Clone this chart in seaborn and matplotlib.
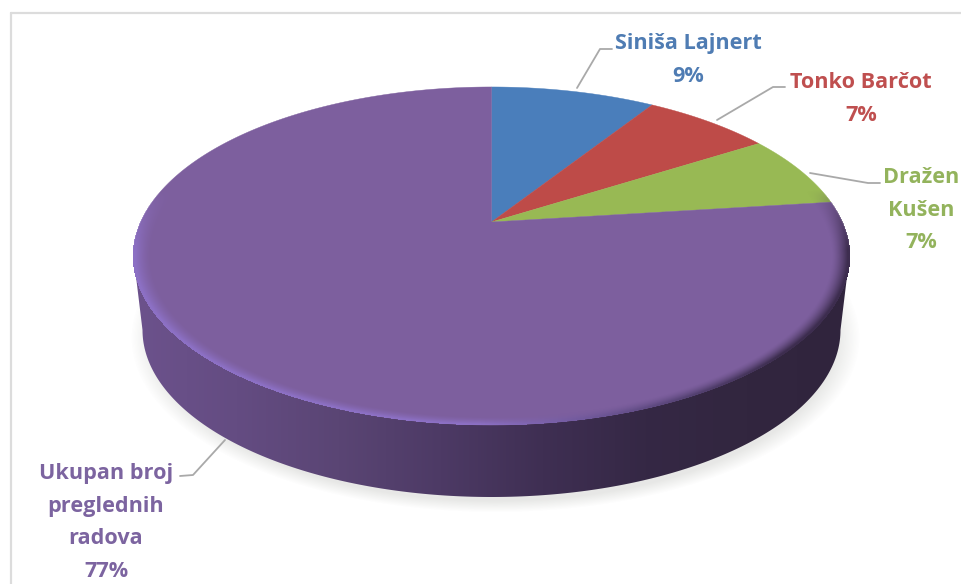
import numpy as np
import matplotlib
matplotlib.use('Agg')
import matplotlib.pyplot as plt
import seaborn as sns

# chart values
names = ['Siniša Lajnert', 'Tonko Barčot', 'Dražen\nKušen', 'Ukupan broj\npreglednih\nradova']
shares = [9, 7, 7, 77]
wedge_colors = ['#4a7ebb', '#be4b48', '#98b954', '#7d5f9e']
text_colors = ['#4f7cb3', '#bf4f4f', '#93b35c', '#7c64a0']
label_xy = [(688, 49), (861, 88), (921, 183), (106, 479)]
leaders = [
    [(577, 88), (600, 49), (612, 49)],
    [(717, 120), (773, 87), (785, 87)],
    [(810, 173), (868, 183), (880, 183)],
    [(225, 440), (193, 475), (180, 476)],
]

sns.set_theme(style='white')
plt.rcParams['font.family'] = ['Open Sans', 'DejaVu Sans']

fig = plt.figure(figsize=(9.61, 5.84), dpi=100)
ax = fig.add_axes([0, 0, 1, 1])
ax.set_xlim(0, 961)
ax.set_ylim(584, 0)
ax.axis('off')

# perspective disc: circle on the table seen from above
APEX_X, APEX_Y = 491.5, 222
K, A, B = 0.2012, 350.7, 162.2


def project(phi, r=1.0):
    x = r * np.sin(phi)
    y = r * np.cos(phi)
    d = 1 + K * y
    return APEX_X + A * x / d, APEX_Y - B * y / d


# top outline is an ellipse, bottom outline sits lower and a bit narrower
TX, TY, TA, TB = 491.5, 256, 358, 169
BX, BY, BA, BB = 491.5, 330, 349, 167

yy, xx = np.mgrid[0:584, 0:961] + 0.5
extent = (0, 961, 584, 0)

# soft shadow under the disc
d_shadow = np.sqrt(((xx - BX - 4) / BA) ** 2 + ((yy - BY - 8) / BB) ** 2)
alpha = np.clip((1.045 - d_shadow) / 0.07, 0, 1) * 0.17
alpha[yy < 250] = 0
shadow = np.zeros((584, 961, 4))
shadow[..., :3] = (0.45, 0.46, 0.42)
shadow[..., 3] = alpha
ax.imshow(shadow, extent=extent, aspect='auto', zorder=1, interpolation='bilinear')

# side wall with left-to-right shading
side_cmap = sns.blend_palette(['#6c528c', '#644c82', '#5a4574', '#4d3a65',
                               '#3f2f53', '#352845', '#32263f', '#30243d'], as_cmap=True)
side = ax.imshow(np.linspace(0, 1, 256)[None, :], extent=(134, 850, 584, 0), aspect='auto',
                 cmap=side_cmap, zorder=2)
t = np.linspace(np.pi, 0, 200)
side_x = np.r_[TX - TA, BX + BA * np.cos(t), TX + TA]
side_y = np.r_[TY, BY + BB * np.sin(t), TY]
clip = ax.fill(side_x, side_y, color='none', zorder=2)[0]
side.set_clip_path(clip)

# slices
cum = np.cumsum([0] + shares) / sum(shares) * 2 * np.pi
for i, color in enumerate(wedge_colors):
    phi = np.linspace(cum[i], cum[i + 1], 300)
    px, py = project(phi)
    ax.fill(np.r_[APEX_X, px], np.r_[APEX_Y, py], color=color, lw=0.3, zorder=3)

# bevel round the front of the top face
d_top = np.sqrt(((xx - TX) / TA) ** 2 + ((yy - TY) / TB) ** 2)
band = np.clip((d_top - 0.95) / 0.045, 0, 1) ** 1.5
band[d_top > 1.002] = 0
fade = np.clip((yy - 190) / 60, 0, 1)
mix = np.clip((xx - 480) / 300, 0, 1)[..., None]
bevel = np.zeros((584, 961, 4))
bevel[..., :3] = (1 - mix) * np.array([0.55, 0.44, 0.77]) + mix * np.array([0.24, 0.18, 0.31])
bevel[..., 3] = band * fade
ax.imshow(bevel, extent=extent, aspect='auto', zorder=4, interpolation='bilinear')
ax.set_xlim(0, 961)
ax.set_ylim(584, 0)

# screenshot frame
ax.plot([11, 961], [13, 13], color='#dcdcdc', lw=1.6, zorder=5)
ax.plot([11, 11], [13, 584], color='#dcdcdc', lw=1.6, zorder=5)

# leader lines
for pts in leaders:
    ax.plot(*zip(*pts), color='#a9a9a9', lw=1.3, zorder=5, solid_joinstyle='round')

# labels
for name, share, (lx, ly), color in zip(names, shares, label_xy, text_colors):
    for j, line in enumerate(name.split('\n') + [f'{share}%']):
        ax.text(lx, ly + j * 32.7, line, color=color, fontsize=15.6, fontweight='bold',
                ha='center', va='baseline', zorder=6)

fig.savefig('out.png', dpi=100)
